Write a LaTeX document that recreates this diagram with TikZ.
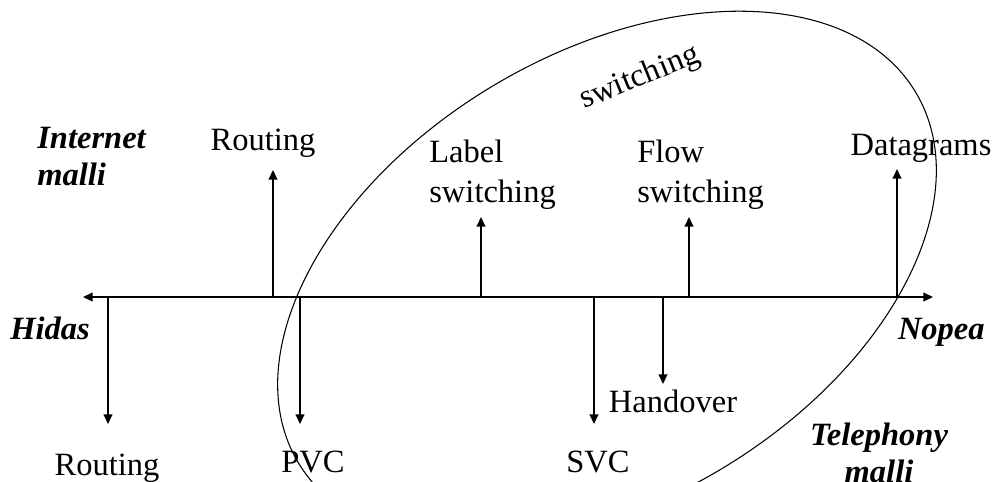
\documentclass[tikz,border=0pt]{standalone}
\usepackage{fontspec}
\setmainfont{Liberation Serif}
\usetikzlibrary{arrows.meta}
\begin{document}
\begin{tikzpicture}[x=0.02cm,y=-0.02cm,
    every node/.style={inner sep=0pt,font=\fontsize{18.5}{21}\selectfont},
    bi/.style={font=\fontsize{18.5}{21}\selectfont\bfseries\itshape},
    tip/.style={-{Triangle[length=5.5pt,width=5pt]},line width=0.8pt},
    both/.style={{Triangle[length=5.5pt,width=5pt]}-{Triangle[length=5.5pt,width=5pt]},line width=0.8pt}]
  \useasboundingbox (0,0) rectangle (998,481);
  % axis and the points on it
  \coordinate (L) at (83,297);
  \coordinate (R) at (933,297);
  \coordinate (a1) at (273,297);
  \coordinate (a2) at (481,297);
  \coordinate (a3) at (689,297);
  \coordinate (a4) at (897,297);
  \coordinate (b1) at (108,297);
  \coordinate (b2) at (300,297);
  \coordinate (b3) at (594,297);
  \coordinate (b4) at (663,297);
  \coordinate (u1) at (273,170);
  \coordinate (u2) at (481,217);
  \coordinate (u3) at (689,217);
  \coordinate (u4) at (897,169);
  \coordinate (d1) at (108,424);
  \coordinate (d2) at (300,424);
  \coordinate (d3) at (594,424);
  \coordinate (d4) at (663,384);
  % labels (base = last line)
  \draw
    (37,185) node[bi,anchor=base west,align=left,font=\fontsize{18.5}{21}\selectfont\bfseries\itshape] (inet){Internet\\malli}
    (263,150) node[anchor=base] (rtup){Routing}
    (429,202) node[anchor=base west,align=left,font=\fontsize{18.5}{22.5}\selectfont] (lbl){Label\\switching}
    (637,202) node[anchor=base west,align=left,font=\fontsize{18.5}{22.5}\selectfont] (flow){Flow\\switching}
    (921,155) node[anchor=base] (dgram){Datagrams}
    (640,78) node[rotate=22] (sw){switching}
    (10,339) node[bi,anchor=base west] (hidas){Hidas}
    (985,339) node[bi,anchor=base east] (nopea){Nopea}
    (107,475) node[anchor=base] (rtdn){Routing}
    (313,472) node[anchor=base] (pvc){PVC}
    (598,472) node[anchor=base] (svc){SVC}
    (673,412) node[anchor=base] (hand){Handover}
    (879,482) node[bi,anchor=base,align=center] (tel){Telephony\\malli};
  % the switching area
  \draw[line width=0.6pt,rotate around={31:(607,277.5)}]
    (607,277.5) ellipse [x radius=360, y radius=223];
  \begin{scope}[tip]
    \draw[both] (L) to (R);
    \draw (a1) to (u1);
    \draw (a2) to (u2);
    \draw (a3) to (u3);
    \draw (a4) to (u4);
    \draw (b1) to (d1);
    \draw (b2) to (d2);
    \draw (b3) to (d3);
    \draw (b4) to (d4);
  \end{scope}
\end{tikzpicture}
\end{document}
